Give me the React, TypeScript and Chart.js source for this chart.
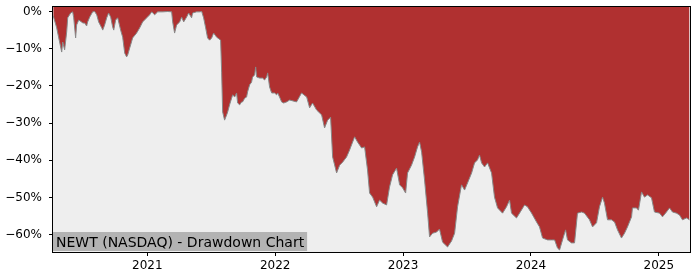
import React, { useEffect, useRef } from "react";
import { Chart, registerables } from "chart.js";

Chart.register(...registerables);

// Decimal years
const dates: number[] = [
  2020.264, 2020.291, 2020.307, 2020.330, 2020.338, 2020.353, 2020.369, 2020.377, 2020.400, 2020.416,
  2020.424, 2020.439, 2020.447, 2020.463, 2020.486, 2020.494, 2020.510, 2020.525, 2020.533, 2020.549,
  2020.572, 2020.588, 2020.604, 2020.619, 2020.643, 2020.651, 2020.666, 2020.682, 2020.697, 2020.713,
  2020.729, 2020.737, 2020.752, 2020.768, 2020.791, 2020.807, 2020.823, 2020.838, 2020.846, 2020.862,
  2020.885, 2020.916, 2020.940, 2020.963, 2020.995, 2021.018, 2021.034, 2021.057, 2021.081, 2021.120,
  2021.159, 2021.190, 2021.198, 2021.213, 2021.229, 2021.253, 2021.268, 2021.284, 2021.307, 2021.323,
  2021.346, 2021.354, 2021.385, 2021.409, 2021.425, 2021.440, 2021.456, 2021.471, 2021.487, 2021.503,
  2021.518, 2021.542, 2021.550, 2021.573, 2021.581, 2021.589, 2021.604, 2021.620, 2021.628, 2021.643,
  2021.659, 2021.667, 2021.683, 2021.698, 2021.706, 2021.722, 2021.737, 2021.745, 2021.761, 2021.776,
  2021.784, 2021.800, 2021.815, 2021.823, 2021.839, 2021.847, 2021.855, 2021.878, 2021.901, 2021.917,
  2021.933, 2021.941, 2021.956, 2021.972, 2021.995, 2022.011, 2022.019, 2022.034, 2022.050, 2022.066,
  2022.089, 2022.113, 2022.167, 2022.206, 2022.246, 2022.269, 2022.292, 2022.324, 2022.363, 2022.386,
  2022.410, 2022.433, 2022.449, 2022.480, 2022.504, 2022.527, 2022.558, 2022.582, 2022.621, 2022.644,
  2022.676, 2022.699, 2022.722, 2022.738, 2022.762, 2022.793, 2022.816, 2022.840, 2022.871, 2022.894,
  2022.918, 2022.949, 2022.973, 2022.996, 2023.020, 2023.035, 2023.066, 2023.090, 2023.113, 2023.129,
  2023.145, 2023.168, 2023.192, 2023.207, 2023.231, 2023.262, 2023.285, 2023.309, 2023.348, 2023.379,
  2023.403, 2023.426, 2023.457, 2023.481, 2023.504, 2023.536, 2023.559, 2023.582, 2023.598, 2023.614,
  2023.637, 2023.661, 2023.692, 2023.715, 2023.739, 2023.778, 2023.809, 2023.833, 2023.848, 2023.887,
  2023.911, 2023.950, 2023.973, 2024.005, 2024.044, 2024.067, 2024.091, 2024.130, 2024.161, 2024.185,
  2024.208, 2024.224, 2024.247, 2024.271, 2024.286, 2024.317, 2024.341, 2024.364, 2024.396, 2024.419,
  2024.458, 2024.482, 2024.513, 2024.536, 2024.560, 2024.575, 2024.599, 2024.630, 2024.654, 2024.677,
  2024.708, 2024.732, 2024.755, 2024.787, 2024.794, 2024.826, 2024.841, 2024.865, 2024.888, 2024.912,
  2024.943, 2024.966, 2025.006, 2025.029, 2025.060, 2025.084, 2025.107, 2025.138, 2025.162, 2025.185,
  2025.217, 2025.240,
];

// Drawdown in percent
const drawdown: number[] = [
  -1.2, -4.4, -7.1, -10.9, -8.2, -10.3, -5.5, -1.7, -0.4, -0.1,
  -1.7, -7.1, -3.6, -2.3, -2.8, -3.1, -3.1, -3.9, -2.8, -1.5,
  -0.1, 0, -0.9, -2.8, -4.4, -5.0, -3.6, -1.7, -0.4, -1.5,
  -4.2, -5.0, -2.3, -1.7, -5.0, -6.9, -11.2, -12.2, -11.7, -9.8,
  -7.1, -5.8, -4.4, -2.8, -1.7, -0.9, -0.1, -0.9, -0.1, -0.1,
  0, -0.1, -2.8, -5.8, -3.6, -2.8, -1.5, -2.8, -1.5, -0.4,
  -1.7, -0.4, -0.1, -0.1, 0, -1.7, -4.4, -7.1, -7.7, -7.1,
  -5.8, -6.9, -7.1, -7.7, -16.3, -27.0, -29.2, -27.8, -27.0, -25.1,
  -23.3, -22.4, -23.0, -21.9, -24.6, -25.1, -24.3, -24.3, -23.3, -23.0,
  -21.6, -19.7, -19.0, -17.6, -17.1, -14.9, -17.6, -17.9, -17.9, -18.4,
  -17.6, -16.5, -20.3, -21.9, -21.9, -22.4, -21.9, -23.0, -24.3, -24.6,
  -24.3, -23.8, -24.3, -21.9, -23.0, -25.9, -24.6, -26.5, -27.8, -31.3,
  -29.2, -28.4, -39.1, -43.4, -41.3, -40.5, -39.1, -37.2, -33.7, -35.1,
  -36.7, -36.4, -42.6, -48.8, -49.9, -52.5, -50.7, -51.5, -52.0, -47.2,
  -43.9, -42.1, -46.6, -47.4, -48.8, -43.4, -41.3, -39.1, -36.4, -35.1,
  -37.8, -45.3, -54.2, -60.6, -59.6, -59.3, -58.5, -62.0, -63.3, -61.7,
  -59.6, -52.5, -46.6, -48.0, -46.1, -43.4, -40.7, -39.9, -38.6, -40.7,
  -41.8, -40.7, -43.4, -49.9, -52.8, -54.2, -52.5, -50.7, -54.2, -55.5,
  -54.2, -52.0, -52.5, -54.2, -56.6, -57.9, -60.9, -61.4, -61.4, -61.4,
  -63.6, -64.1, -61.4, -58.7, -61.4, -62.2, -62.2, -54.2, -53.9, -54.2,
  -56.0, -57.9, -56.8, -52.5, -49.9, -51.5, -56.0, -56.0, -56.6, -58.7,
  -60.9, -59.6, -57.9, -55.2, -52.8, -52.8, -53.4, -48.5, -49.9, -49.3,
  -50.1, -53.9, -54.2, -55.2, -53.9, -52.8, -53.9, -54.2, -54.7, -56.0,
  -55.5, -56.0,
];

const xTicks: number[] = [2021, 2022, 2023, 2024, 2025];
const yTicks: number[] = [0, -10, -20, -30, -40, -50, -60];
const title = "NEWT (NASDAQ) - Drawdown Chart";

const FONT = "'DejaVu Sans', sans-serif";

export default function App() {
  const ref = useRef<HTMLCanvasElement | null>(null);

  useEffect(() => {
    const canvas = ref.current;
    if (!canvas) return;

    const framePlugin = {
      id: "frame",
      beforeDraw(chart: any) {
        const { ctx, chartArea } = chart;
        ctx.save();
        ctx.fillStyle = "#ffffff";
        ctx.fillRect(0, 0, chart.width, chart.height);
        ctx.fillStyle = "#eeeeee";
        ctx.fillRect(chartArea.left, chartArea.top, chartArea.right - chartArea.left, chartArea.bottom - chartArea.top);
        ctx.restore();
      },
      afterDatasetsDraw(chart: any) {
        const { ctx, chartArea } = chart;
        ctx.save();
        ctx.font = `14px ${FONT}`;
        const w = ctx.measureText(title).width;
        ctx.fillStyle = "#b3b3b3";
        ctx.fillRect(chartArea.left, chartArea.bottom - 20, w + 6, 19);
        ctx.fillStyle = "#000000";
        ctx.textBaseline = "alphabetic";
        ctx.textAlign = "left";
        ctx.fillText(title, chartArea.left + 3, chartArea.bottom - 5.5);
        ctx.strokeStyle = "#000000";
        ctx.lineWidth = 1;
        ctx.strokeRect(
          chartArea.left - 0.5,
          chartArea.top - 0.5,
          chartArea.right - chartArea.left + 1,
          chartArea.bottom - chartArea.top + 1
        );
        ctx.restore();
      },
    };

    const zeroPad = (scale: any) => {
      scale.paddingTop = 0;
      scale.paddingBottom = 0;
      scale.paddingLeft = 0;
      scale.paddingRight = 0;
    };

    const chart = new Chart(canvas, {
      type: "line",
      data: {
        datasets: [
          {
            data: dates.map((d, i) => ({ x: d, y: drawdown[i] })),
            fill: "end",
            backgroundColor: "#b03030",
            borderColor: "#888888",
            borderWidth: 1,
            pointRadius: 0,
            tension: 0,
          },
        ],
      },
      options: {
        animation: false,
        responsive: false,
        devicePixelRatio: 1,
        layout: { padding: { top: 7, right: 10, left: 0, bottom: 0 } },
        plugins: {
          legend: { display: false },
          tooltip: { enabled: false },
          title: { display: false },
        },
        scales: {
          x: {
            type: "linear",
            min: 2020.262,
            max: 2025.244,
            afterBuildTicks: (scale: any) => {
              scale.ticks = xTicks.map((v) => ({ value: v }));
            },
            afterFit: (scale: any) => {
              scale.height = 28;
              zeroPad(scale);
            },
            ticks: {
              callback: (v: any) => String(v),
              color: "#000000",
              font: { family: FONT, size: 12 },
              padding: 3,
              maxRotation: 0,
              autoSkip: false,
            },
            grid: { display: true, drawOnChartArea: false, drawTicks: true, tickLength: 4, color: "#000000" },
            border: { display: false },
          },
          y: {
            type: "linear",
            min: -64.65,
            max: 1.21,
            afterBuildTicks: (scale: any) => {
              scale.ticks = yTicks.map((v) => ({ value: v }));
            },
            afterFit: (scale: any) => {
              scale.width = 53;
              zeroPad(scale);
            },
            ticks: {
              callback: (v: any) => (v < 0 ? "\u2212" + Math.abs(v) : String(v)) + "%",
              color: "#000000",
              font: { family: FONT, size: 12 },
              padding: 7,
              autoSkip: false,
            },
            grid: { display: true, drawOnChartArea: false, drawTicks: true, tickLength: 4, color: "#000000" },
            border: { display: false },
          },
        },
      },
      plugins: [framePlugin],
    } as any);

    return () => chart.destroy();
  }, []);

  return (
    <div style={{ position: "absolute", left: 0, top: 0, width: 700, height: 280, background: "#fff" }}>
      <canvas ref={ref} width={700} height={280} style={{ width: 700, height: 280, display: "block" }} />
    </div>
  );
}
